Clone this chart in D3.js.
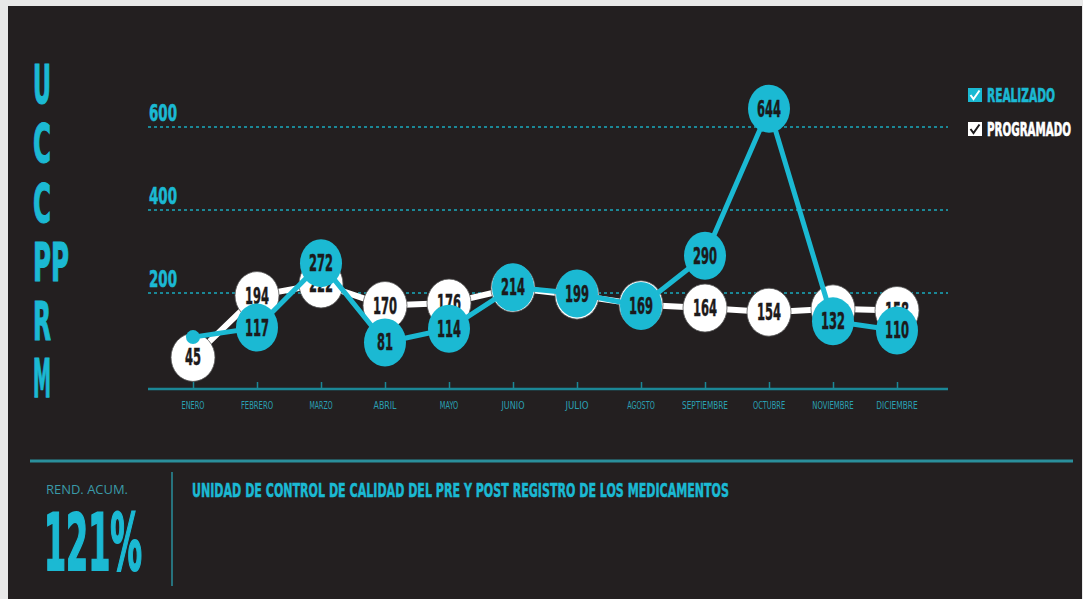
<!DOCTYPE html>
<html><head><meta charset="utf-8">
<script src="https://cdn.jsdelivr.net/npm/d3@7"></script>
<style>
html,body{margin:0;padding:0;background:#ffffff;}
svg{display:block;}
</style></head>
<body>
<svg id="chart" width="1083" height="599"></svg>
<script>
const months = ["ENERO","FEBRERO","MARZO","ABRIL","MAYO","JUNIO","JULIO","AGOSTO","SEPTIEMBRE","OCTUBRE","NOVIEMBRE","DICIEMBRE"];
const realizado = [94,117,272,81,114,214,199,169,290,644,132,110];
const programado = [45,194,222,170,176,212,195,172,164,154,162,158];
const realizadoShowLabel = [false,true,true,true,true,true,true,true,true,true,true,true];
const programadoShowLabel = [true,true,true,true,true,false,false,false,true,true,false,true];
const yTicks = [200,400,600];
const sideLetters = ["U","C","C","PP","R","M"];
const legendItems = ["REALIZADO","PROGRAMADO"];
const rendLabel = "REND. ACUM.";
const rendValue = "121%";
const titleText = "UNIDAD DE CONTROL DE CALIDAD DEL PRE Y POST REGISTRO DE LOS MEDICAMENTOS";

const BG = "#231f20", CYAN = "#1bb9d3", TEAL = "#1b8796", WHITE = "#ffffff", INK = "#1c1a1b";
const COND = "'Liberation Sans Narrow','DejaVu Sans Condensed','Roboto Condensed',sans-serif";

const svg = d3.select("#chart");
svg.append("rect").attr("x",0).attr("y",0).attr("width",1083).attr("height",599).attr("fill","#e8e8e8");
svg.append("rect").attr("x",8).attr("y",6).attr("width",1074).attr("height",593).attr("fill",BG);

const x = d3.scalePoint().domain(months).range([193,897]).padding(0);
const y = d3.scaleLinear().domain([-31,600]).range([389,127]);
const gridL = 148, gridR = 948;

// gridlines
const grid = svg.append("g");
grid.selectAll("line").data(yTicks).join("line")
  .attr("x1",gridL).attr("x2",gridR)
  .attr("y1",d=>y(d)).attr("y2",d=>y(d))
  .attr("stroke",TEAL).attr("stroke-width",2).attr("stroke-dasharray","3,3");
grid.selectAll("text").data(yTicks).join("text")
  .attr("x",149).attr("y",d=>y(d)-6)
  .attr("font-family",COND).attr("font-weight","bold").attr("font-size",23)
  .attr("fill",CYAN).attr("stroke",CYAN).attr("stroke-width",0.6)
  .attr("textLength",28).attr("lengthAdjust","spacingAndGlyphs")
  .text(d=>d);

// x axis
const xAxis = d3.axisTop(x).tickSize(7).tickFormat("");
const ax = svg.append("g").attr("transform",`translate(0,${y(-31)})`).call(xAxis);
ax.select(".domain").remove();
ax.selectAll(".tick line").attr("stroke",TEAL).attr("stroke-width",1.5);
svg.append("line").attr("x1",gridL).attr("x2",gridR).attr("y1",y(-31)).attr("y2",y(-31))
  .attr("stroke",TEAL).attr("stroke-width",2.5);
svg.append("g").selectAll("text").data(months).join("text")
  .attr("x",d=>x(d)).attr("y",y(-31)+20).attr("text-anchor","middle")
  .attr("font-family",COND).attr("font-size",11).attr("fill","#2a9fb2")
  .attr("textLength",d=>d.length*4.6).attr("lengthAdjust","spacingAndGlyphs")
  .text(d=>d);

// lines
const line = d3.line().x((d,i)=>x(months[i])).y(d=>y(d));
svg.append("path").datum(programado).attr("d",line).attr("fill","none")
  .attr("stroke",WHITE).attr("stroke-width",6).attr("stroke-linejoin","round");

const pg = svg.append("g").selectAll("g").data(programado).join("g")
  .attr("transform",(d,i)=>`translate(${x(months[i])},${y(d)})`);
pg.append("ellipse").attr("rx",22).attr("ry",24).attr("fill",WHITE).attr("stroke","#555").attr("stroke-width",0.8);
pg.filter((d,i)=>programadoShowLabel[i]).append("text").attr("text-anchor","middle").attr("dy",8)
  .attr("font-family",COND).attr("font-weight","bold").attr("font-size",23).attr("fill",INK)
  .attr("stroke",INK).attr("stroke-width",0.5)
  .attr("textLength",d=>String(d).length*8).attr("lengthAdjust","spacingAndGlyphs")
  .text(d=>d);

svg.append("path").datum(realizado).attr("d",line).attr("fill","none")
  .attr("stroke",CYAN).attr("stroke-width",5).attr("stroke-linejoin","round");

const rg = svg.append("g").selectAll("g").data(realizado).join("g")
  .attr("transform",(d,i)=>`translate(${x(months[i])},${y(d)})`);
rg.append("ellipse").attr("rx",(d,i)=>realizadoShowLabel[i]?21:7).attr("ry",(d,i)=>realizadoShowLabel[i]?24:7).attr("fill",CYAN);
rg.filter((d,i)=>realizadoShowLabel[i]).append("text").attr("text-anchor","middle").attr("dy",8)
  .attr("font-family",COND).attr("font-weight","bold").attr("font-size",23).attr("fill",INK)
  .attr("stroke",INK).attr("stroke-width",0.5)
  .attr("textLength",d=>String(d).length*8).attr("lengthAdjust","spacingAndGlyphs")
  .text(d=>d);

// side letters
const sideBase = [103,162,222,281,340,397];
svg.append("g").selectAll("text").data(sideLetters).join("text")
  .attr("x",33).attr("y",(d,i)=>sideBase[i])
  .attr("font-family",COND).attr("font-weight","bold").attr("font-size",54).attr("fill",CYAN)
  .attr("stroke",CYAN).attr("stroke-width",1.2)
  .attr("textLength",d=>d.length*18).attr("lengthAdjust","spacingAndGlyphs")
  .text(d=>d);

// legend
const lg = svg.append("g");
const lgColors = [CYAN, WHITE];
const lgCheck = [WHITE, INK];
const lgWidths = [68, 84];
legendItems.forEach((t,i)=>{
  const yy = 88 + i*34;
  lg.append("rect").attr("x",968).attr("y",yy).attr("width",14).attr("height",14).attr("fill",lgColors[i]);
  lg.append("path").attr("d",`M${970.5},${yy+7} L${973.5},${yy+11} L${979.5},${yy+2.5}`)
    .attr("fill","none").attr("stroke",lgCheck[i]).attr("stroke-width",2);
  lg.append("text").attr("transform",`translate(987,${yy+14}) scale(1,1.6)`)
    .attr("font-family",COND).attr("font-weight","bold").attr("font-size",11.8).attr("fill",lgColors[i])
    .attr("stroke",lgColors[i]).attr("stroke-width",0.4)
    .attr("textLength",lgWidths[i]).attr("lengthAdjust","spacingAndGlyphs").text(t);
});

// bottom panel
svg.append("line").attr("x1",30).attr("x2",1073).attr("y1",461).attr("y2",461).attr("stroke","#2a8f9c").attr("stroke-width",3);
svg.append("line").attr("x1",172).attr("x2",172).attr("y1",472).attr("y2",586).attr("stroke","#2a8f9c").attr("stroke-width",1.5);
svg.append("text").attr("x",46).attr("y",494)
  .attr("font-family","'Open Sans',sans-serif").attr("font-size",12).attr("fill","#3a9aa8")
  .attr("textLength",82).attr("lengthAdjust","spacingAndGlyphs").text(rendLabel);
svg.append("text").attr("x",44).attr("y",570)
  .attr("font-family",COND).attr("font-weight","bold").attr("font-size",78).attr("fill",CYAN)
  .attr("stroke",CYAN).attr("stroke-width",2)
  .attr("textLength",98).attr("lengthAdjust","spacingAndGlyphs").text(rendValue);
svg.append("text").attr("x",192).attr("y",497)
  .attr("font-family",COND).attr("font-weight","bold").attr("font-size",19).attr("fill",CYAN)
  .attr("stroke",CYAN).attr("stroke-width",0.5)
  .attr("textLength",537).attr("lengthAdjust","spacingAndGlyphs").text(titleText);
</script>
</body></html>
